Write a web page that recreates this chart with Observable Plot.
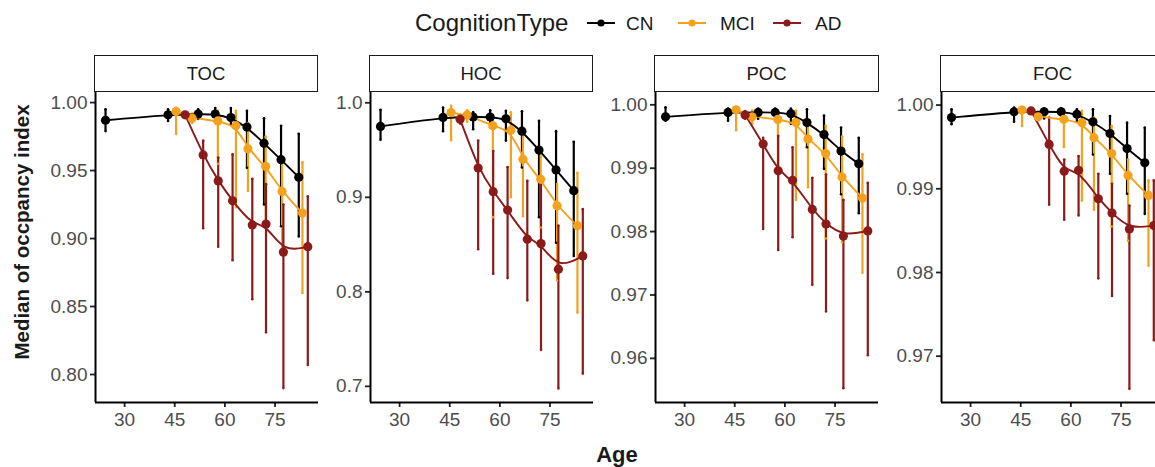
<!DOCTYPE html>
<html><head><meta charset="utf-8">
<script src="https://cdn.jsdelivr.net/npm/d3@7"></script>
<script src="https://cdn.jsdelivr.net/npm/@observablehq/plot@0.6"></script>
<style>
body{margin:0;background:#fff;font-family:"Liberation Sans",Arial,Helvetica,sans-serif;}
#root{position:relative;width:1155px;height:467px;overflow:hidden;background:#fff;}
.abs{position:absolute;}
.strip{position:absolute;box-sizing:border-box;border:1.8px solid #1a1a1a;background:#fff;display:flex;align-items:center;justify-content:center;font-size:18.5px;color:#1a1a1a;}
.lg{position:absolute;white-space:nowrap;color:#1a1a1a;line-height:1;}
</style></head><body><div id="root"></div><script>
// ---- data ----
const panels = ["TOC", "HOC", "POC", "FOC"];
const groups = ["CN", "MCI", "AD"];
const groupColors = ["#000000", "#F4A21E", "#8B1A1A"];
const xTicks = [30, 45, 60, 75];

const cnAge  = [24.3, 43.0, 52.0, 57.1, 61.8, 66.6, 71.7, 76.8, 82.1];
const mciAge = [45.4, 50.2, 57.9, 63.3, 66.9, 72.2, 77.1, 83.2];
const adAge  = [48.1, 53.5, 58.0, 62.3, 68.2, 72.3, 77.5, 84.8];

// [median, low, high]
const tocCN = [[0.987,0.979,0.995],[0.991,0.9865,0.995],[0.9915,0.988,0.995],[0.9915,0.987,0.996],[0.989,0.984,0.996],[0.982,0.952,0.994],[0.970,0.925,0.9885],[0.958,0.909,0.983],[0.945,0.9015,0.977]];
const tocMCI = [[0.9934,0.977,0.9963],[0.9885,0.985,0.992],[0.9865,0.955,0.994],[0.983,0.923,0.994],[0.966,0.935,0.985],[0.953,0.91,0.975],[0.9346,0.89,0.96],[0.9187,0.86,0.956]];
const tocAD = [[0.991,0.989,0.993],[0.9615,0.9076,0.972],[0.9424,0.894,0.9596],[0.9277,0.884,0.962],[0.910,0.8554,0.944],[0.9106,0.831,0.940],[0.890,0.790,0.925],[0.894,0.807,0.931]];

const hocCN = [[0.975,0.961,0.9926],[0.9845,0.970,0.995],[0.985,0.972,0.99],[0.985,0.974,0.992],[0.983,0.960,0.9915],[0.970,0.9316,0.991],[0.950,0.879,0.981],[0.929,0.852,0.970],[0.907,0.838,0.9587]];
const hocMCI = [[0.9897,0.9605,0.9968],[0.987,0.98,0.992],[0.9757,0.879,0.983],[0.971,0.90,0.99],[0.9404,0.88,0.967],[0.919,0.868,0.953],[0.891,0.812,0.914],[0.870,0.778,0.926]];
const hocAD = [[0.9827,0.978,0.987],[0.931,0.845,0.96],[0.906,0.819,0.949],[0.8865,0.8145,0.932],[0.8557,0.791,0.9175],[0.851,0.7386,0.914],[0.824,0.6977,0.87],[0.838,0.7135,0.8875]];

const pocCN = [[0.9981,0.9975,0.9996],[0.9988,0.9975,0.9994],[0.9988,0.9978,0.9994],[0.9988,0.998,0.9994],[0.9986,0.997,0.9994],[0.9972,0.9933,0.9993],[0.9953,0.9899,0.9983],[0.9927,0.9859,0.9964],[0.9907,0.9829,0.9948]];
const pocMCI = [[0.9992,0.996,0.9996],[0.9981,0.997,0.9991],[0.9977,0.9901,0.9991],[0.9972,0.985,0.9991],[0.9946,0.987,0.9967],[0.9923,0.9789,0.9967],[0.9886,0.9783,0.995],[0.9853,0.9735,0.9922]];
const pocAD = [[0.9984,0.9978,0.999],[0.9938,0.9804,0.9948],[0.9896,0.9771,0.9951],[0.9881,0.9791,0.9933],[0.9835,0.9716,0.9885],[0.9812,0.9674,0.989],[0.9793,0.9553,0.985],[0.9801,0.9605,0.9877]];

const focCN = [[0.9985,0.9977,0.9995],[0.9992,0.998,0.9997],[0.9992,0.9984,0.9996],[0.9992,0.9986,0.9996],[0.9989,0.998,0.9995],[0.998,0.9941,0.9995],[0.9966,0.9918,0.9987],[0.9948,0.9894,0.9979],[0.9931,0.987,0.9973]];
const focMCI = [[0.9994,0.9975,0.9998],[0.9986,0.9982,0.9992],[0.9983,0.995,0.9994],[0.9979,0.9886,0.9993],[0.9961,0.9875,0.9985],[0.9942,0.9855,0.9975],[0.9916,0.9838,0.9935],[0.9892,0.9808,0.991]];
const focAD = [[0.9993,0.999,0.9996],[0.9953,0.9881,0.9985],[0.9921,0.9863,0.9935],[0.9922,0.9868,0.9939],[0.9888,0.9793,0.9918],[0.9871,0.9772,0.9906],[0.9852,0.9661,0.988],[0.9856,0.9719,0.991]];

const tocTicks = [0.80, 0.85, 0.90, 0.95, 1.00];
const hocTicks = [0.7, 0.8, 0.9, 1.0];
const pocTicks = [0.96, 0.97, 0.98, 0.99, 1.00];
const focTicks = [0.97, 0.98, 0.99, 1.00];

// ---- layout / scales config ----
const ages = [cnAge, mciAge, adAge];
const panelSeries = [[tocCN, tocMCI, tocAD],[hocCN, hocMCI, hocAD],[pocCN, pocMCI, pocAD],[focCN, focMCI, focAD]];
const panelTicks = [tocTicks, hocTicks, pocTicks, focTicks];
const panelFormat = [".2f", ".1f", ".2f", ".2f"];
const panelYDomain = [[0.7794, 1.0074],[0.6829, 1.0109],[0.95304, 1.00194],[0.96447, 1.0015]];
const xDomain = [21.3, 88.0];
const panelLeft = [94.5, 369.5, 655, 941];
const panelW = 223, plotTop = 91.5, plotH = 310;
const mL = 60, mR = 2, mT = 10, mB = 40;
const tickFont = 19;

const root = document.getElementById("root");
const font = '"Liberation Sans", Arial, Helvetica, sans-serif';

panels.forEach((name, p) => {
  const rows = [];
  panelSeries[p].forEach((series, g) => {
    series.forEach((v, i) => rows.push({group: groups[g], age: ages[g][i], med: v[0], lo: v[1], hi: v[2]}));
  });
  const yDom = panelYDomain[p];
  const chart = Plot.plot({
    width: mL + panelW + mR,
    height: mT + plotH + mB,
    marginLeft: mL, marginRight: mR, marginTop: mT, marginBottom: mB,
    style: {background: "transparent", overflow: "visible", fontFamily: font, fontSize: tickFont + "px"},
    x: {domain: xDomain},
    y: {domain: yDom},
    color: {domain: groups, range: groupColors},
    marks: [
      Plot.axisX({ticks: xTicks, tickSize: 5, tickPadding: 5, stroke: "#222", strokeWidth: 1.8, fill: "#4d4d4d", label: null, fontSize: tickFont}),
      Plot.axisY({ticks: panelTicks[p], tickFormat: d3.format(panelFormat[p]), tickSize: 5, tickPadding: 3, stroke: "#222", strokeWidth: 1.8, fill: "#4d4d4d", label: null, fontSize: tickFont}),
      Plot.ruleX(rows, {x: "age", y1: "lo", y2: "hi", stroke: "group", strokeWidth: 2.2}),
      Plot.dot(rows, {x: "age", y: "lo", fill: "group", r: 1.3}),
      Plot.dot(rows, {x: "age", y: "hi", fill: "group", r: 1.3}),
      Plot.line(rows, {x: "age", y: "med", stroke: "group", z: "group", curve: "basis", strokeWidth: 1.9}),
      Plot.dot(rows, {x: "age", y: "med", fill: "group", r: 4.6}),
      Plot.ruleX([xDomain[0]], {stroke: "#000", strokeWidth: 2}),
      Plot.ruleY([yDom[0]], {stroke: "#000", strokeWidth: 2})
    ]
  });
  const holder = document.createElement("div");
  holder.className = "abs";
  holder.style.left = (panelLeft[p] - mL) + "px";
  holder.style.top = (plotTop - mT) + "px";
  holder.style.width = (mL + panelW + mR) + "px";
  holder.appendChild(chart);
  root.appendChild(holder);

  const strip = document.createElement("div");
  strip.className = "strip";
  strip.style.left = (panelLeft[p] - 0.9) + "px";
  strip.style.top = "55px";
  strip.style.width = (panelW + 1.8) + "px";
  strip.style.height = (plotTop - 55 + 0.9) + "px";
  strip.textContent = name;
  root.appendChild(strip);
});

// axis titles
const yt = document.createElement("div");
yt.className = "lg";
yt.style.cssText += "left:22px;top:232px;font-size:20.5px;font-weight:bold;transform:translate(-50%,-50%) rotate(-90deg);";
yt.textContent = "Median of occpancy index";
root.appendChild(yt);

const xt = document.createElement("div");
xt.className = "lg";
xt.style.cssText += "left:617px;top:455px;font-size:22px;font-weight:bold;transform:translate(-50%,-50%);";
xt.textContent = "Age";
root.appendChild(xt);

// legend
const lt = document.createElement("div");
lt.className = "lg";
lt.style.cssText += "left:415px;top:23px;font-size:24px;transform:translateY(-50%);";
lt.textContent = "CognitionType";
root.appendChild(lt);

const keyLeft = [587, 678, 773];
const labelLeft = [626, 720, 815];
groups.forEach((g, i) => {
  const ns = "http://www.w3.org/2000/svg";
  const s = document.createElementNS(ns, "svg");
  s.setAttribute("width", 28); s.setAttribute("height", 12);
  s.style.position = "absolute";
  s.style.left = keyLeft[i] + "px"; s.style.top = "17px";
  const ln = document.createElementNS(ns, "line");
  ln.setAttribute("x1", 0); ln.setAttribute("x2", 28); ln.setAttribute("y1", 6); ln.setAttribute("y2", 6);
  ln.setAttribute("stroke", groupColors[i]); ln.setAttribute("stroke-width", 2);
  const c = document.createElementNS(ns, "circle");
  c.setAttribute("cx", 14); c.setAttribute("cy", 6); c.setAttribute("r", 3.6); c.setAttribute("fill", groupColors[i]);
  s.appendChild(ln); s.appendChild(c);
  root.appendChild(s);
  const t = document.createElement("div");
  t.className = "lg";
  t.style.cssText += `left:${labelLeft[i]}px;top:23px;font-size:19px;transform:translateY(-50%);`;
  t.textContent = g;
  root.appendChild(t);
});
</script></body></html>
